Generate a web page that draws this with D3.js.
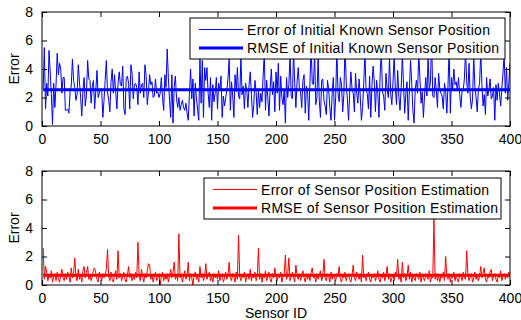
<!DOCTYPE html>
<html>
<head>
<meta charset="utf-8">
<script src="https://cdn.jsdelivr.net/npm/d3@7"></script>
<style>
  body { margin: 0; background: #fff; }
  svg { display: block; font-family: "Liberation Sans", Arial, sans-serif; }
</style>
</head>
<body>
<div id="container"></div>
<script>
// error of the initial known sensor position, one value per sensor (1..400)
const initialError = [
  2.6, 5.5, 1.2, 3.0, 2.1, 5.3, 3.8, 2.2, 0.1, 3.0, 1.3, 2.9, 5.1, 3.6, 4.4, 4.0, 2.3, 3.4, 3.4, 1.1,
  1.1, 1.2, 0.9, 2.4, 2.8, 4.7, 3.2, 2.7, 1.8, 2.2, 4.3, 3.1, 2.0, 0.7, 2.5, 3.4, 1.4, 2.2, 4.6, 3.3,
  3.2, 1.6, 2.8, 3.2, 1.2, 2.5, 3.9, 2.0, 2.3, 2.6, 2.6, 0.6, 1.8, 3.2, 4.6, 2.4, 1.8, 1.0, 3.1, 4.0,
  2.3, 3.6, 2.4, 1.2, 3.0, 3.8, 2.9, 2.8, 4.2, 1.2, 0.8, 3.4, 3.5, 3.0, 1.2, 4.3, 3.7, 1.9, 2.9, 3.0,
  2.7, 1.5, 3.8, 2.3, 2.9, 3.0, 2.0, 4.3, 3.5, 1.5, 2.4, 3.6, 2.9, 3.1, 2.0, 2.1, 3.3, 2.3, 2.4, 2.0,
  2.3, 3.4, 2.0, 1.1, 3.6, 2.7, 5.4, 3.4, 1.8, 0.6, 3.6, 0.2, 2.8, 3.5, 1.9, 1.3, 2.0, 1.1, 1.5, 1.8,
  1.3, 1.1, 1.6, 0.9, 0.4, 2.2, 4.0, 1.9, 3.3, 0.7, 3.0, 2.0, 1.1, 0.4, 4.8, 1.6, 4.6, 0.6, 4.1, 3.2,
  4.1, 2.3, 1.3, 3.4, 0.4, 2.9, 1.7, 2.3, 3.4, 1.2, 3.0, 2.5, 3.5, 0.6, 2.1, 1.4, 2.0, 2.5, 3.4, 4.7,
  1.1, 3.1, 2.1, 0.6, 3.6, 2.4, 4.1, 2.1, 1.9, 4.9, 2.2, 2.8, 1.2, 3.0, 2.5, 1.3, 2.9, 3.8, 2.2, 0.6,
  1.5, 3.2, 2.4, 0.8, 2.5, 1.3, 2.3, 1.7, 3.5, 5.2, 1.1, 3.2, 2.0, 0.7, 2.6, 4.0, 2.2, 3.1, 1.0, 3.8,
  2.3, 4.4, 1.1, 3.5, 2.0, 1.5, 2.6, 0.2, 3.4, 2.0, 2.9, 5.0, 2.1, 1.9, 5.3, 3.0, 1.3, 3.1, 4.1, 2.6,
  2.4, 1.3, 3.2, 3.6, 0.9, 2.8, 2.4, 0.4, 3.0, 5.6, 3.0, 2.9, 5.1, 1.5, 2.0, 4.9, 1.8, 0.6, 3.2, 3.3,
  1.8, 1.4, 0.8, 3.2, 2.6, 1.3, 0.4, 2.3, 3.4, 0.4, 2.0, 5.4, 2.3, 1.7, 3.4, 2.9, 1.0, 2.2, 5.8, 3.1,
  1.9, 0.4, 2.3, 3.8, 2.6, 2.3, 1.0, 3.7, 2.3, 1.6, 3.3, 2.1, 0.4, 1.3, 3.0, 5.2, 2.5, 2.3, 1.2, 3.5,
  0.6, 2.9, 4.2, 3.1, 1.0, 3.2, 2.3, 0.6, 3.6, 5.3, 2.4, 2.1, 1.1, 3.7, 2.6, 2.0, 4.8, 2.3, 1.5, 3.1,
  4.9, 2.6, 1.5, 3.9, 2.1, 1.1, 2.7, 5.0, 2.9, 0.9, 2.3, 3.1, 0.4, 2.5, 4.6, 3.0, 1.1, 0.2, 2.6, 3.2,
  2.3, 5.1, 3.4, 1.6, 2.4, 0.6, 2.2, 3.4, 2.1, 4.9, 2.5, 3.1, 6.2, 2.1, 2.0, 3.4, 2.5, 1.3, 3.7, 2.6,
  2.3, 2.1, 1.2, 3.0, 2.5, 0.9, 2.8, 5.5, 0.9, 3.4, 2.6, 4.0, 2.9, 3.1, 2.5, 3.4, 2.2, 1.3, 2.4, 2.5,
  3.3, 5.3, 3.1, 2.3, 4.4, 2.0, 1.2, 1.9, 4.9, 2.8, 2.0, 1.0, 2.6, 3.0, 5.2, 2.9, 1.4, 2.2, 0.8, 3.4,
  2.1, 2.6, 3.3, 1.9, 2.1, 2.7, 0.4, 2.9, 1.8, 3.0, 2.3, 1.4, 2.6, 3.7, 5.0, 2.3, 4.1, 1.8, 3.0, 4.4
];

// error of the sensor position estimation, one value per sensor (1..400)
const estimationError = [
  2.6, 0.4, 1.3, 0.9, 0.3, 0.7, 0.5, 1.0, 0.2, 0.6, 0.8, 0.3, 0.9, 0.4, 0.2, 0.7, 1.1, 0.5, 0.3, 0.8,
  0.4, 0.9, 0.6, 0.2, 1.2, 0.5, 0.8, 1.9, 0.6, 0.3, 1.1, 0.4, 0.7, 0.2, 1.0, 1.3, 0.5, 0.9, 1.3, 0.4,
  0.7, 0.3, 0.6, 1.1, 1.2, 0.8, 0.4, 0.2, 0.9, 0.6, 0.3, 0.8, 0.5, 0.7, 1.1, 2.5, 0.6, 0.3, 0.9, 0.4,
  0.2, 0.7, 1.0, 0.4, 2.4, 0.5, 0.8, 0.3, 0.6, 0.9, 0.4, 0.2, 0.7, 1.3, 0.5, 0.8, 0.3, 0.6, 0.4, 0.9,
  0.5, 3.0, 0.7, 0.3, 1.1, 0.6, 0.2, 0.8, 0.5, 1.0, 1.5, 1.4, 0.4, 0.7, 0.2, 0.6, 0.9, 0.3, 0.5, 0.8,
  0.0, 0.6, 0.9, 0.3, 0.7, 0.4, 0.8, 0.2, 0.6, 1.1, 0.5, 0.9, 1.6, 0.4, 0.7, 0.3, 3.6, 0.5, 0.8, 0.2,
  0.6, 1.0, 0.4, 0.7, 1.6, 0.3, 0.8, 0.5, 0.0, 0.7, 0.9, 0.4, 0.6, 0.2, 1.3, 0.5, 0.8, 0.3, 0.6, 1.5,
  0.4, 0.7, 0.9, 0.3, 0.6, 0.2, 0.8, 0.5, 0.7, 0.4, 1.0, 0.3, 0.6, 0.8, 0.2, 0.5, 0.9, 0.4, 0.7, 1.6,
  0.5, 0.3, 0.8, 0.6, 0.2, 0.9, 0.4, 3.5, 0.6, 0.3, 0.7, 0.5, 0.9, 0.2, 0.6, 0.8, 0.4, 1.1, 0.3, 0.7,
  0.5, 0.9, 0.3, 0.6, 2.6, 0.4, 0.8, 0.2, 0.7, 0.5, 1.0, 0.3, 0.6, 0.9, 0.4, 0.2, 0.8, 0.5, 1.2, 0.6,
  0.3, 0.7, 0.5, 0.9, 0.2, 0.6, 0.8, 2.1, 0.4, 0.7, 1.9, 0.3, 0.6, 0.9, 0.5, 0.2, 1.4, 0.7, 0.4, 0.8,
  0.3, 0.6, 1.0, 0.5, 0.2, 0.8, 0.4, 0.7, 0.3, 0.9, 1.2, 0.5, 0.6, 0.2, 0.8, 0.4, 0.7, 1.0, 0.3, 0.6,
  1.8, 0.5, 0.3, 0.8, 0.6, 0.2, 0.9, 0.4, 0.7, 0.5, 0.3, 0.8, 0.6, 1.3, 0.4, 0.2, 0.7, 0.5, 0.9, 0.3,
  0.6, 0.8, 0.4, 0.2, 0.7, 1.4, 0.5, 0.3, 0.9, 0.6, 0.4, 0.8, 0.2, 2.1, 0.5, 0.7, 0.3, 0.6, 0.9, 0.4,
  0.2, 0.7, 0.5, 0.8, 0.3, 0.6, 1.0, 0.4, 0.2, 0.7, 0.5, 0.9, 0.3, 0.6, 1.3, 0.4, 0.8, 0.2, 0.5, 0.7,
  0.3, 0.9, 0.6, 1.8, 0.4, 0.7, 0.2, 1.6, 0.5, 0.8, 0.3, 0.6, 1.4, 0.4, 0.9, 0.2, 0.7, 0.5, 0.3, 0.8,
  0.6, 0.4, 0.9, 0.2, 0.7, 0.5, 0.3, 0.8, 0.6, 0.4, 1.0, 0.2, 0.6, 0.5, 4.7, 0.4, 0.8, 0.3, 0.6, 0.2,
  0.7, 0.5, 0.9, 0.3, 2.0, 0.6, 0.4, 0.8, 0.2, 0.6, 0.5, 0.9, 0.3, 0.7, 0.4, 0.2, 0.8, 0.6, 0.3, 0.9,
  0.5, 0.4, 2.4, 0.7, 0.3, 0.6, 0.8, 0.2, 0.5, 0.9, 0.4, 0.7, 0.3, 0.6, 1.3, 0.5, 0.8, 1.2, 0.4, 0.2,
  0.7, 0.5, 0.9, 1.1, 0.3, 0.6, 0.8, 0.4, 0.2, 0.7, 0.5, 1.0, 0.3, 0.6, 0.8, 0.4, 0.7, 0.5, 0.9, 0.6
];

const initialRmse = 2.55;
const estimationRmse = 0.68;

const xTicks = [0, 50, 100, 150, 200, 250, 300, 350, 400];
const yTicks = [0, 2, 4, 6, 8];

const panels = [
  {
    values: initialError, rmse: initialRmse, color: '#0000ff',
    labels: ['Error of Initial Known Sensor Position', 'RMSE of Initial Known Sensor Position'],
    top: 12, bottom: 126, legend: { x: 190, y: 18, w: 315, h: 41 }, xLabel: null
  },
  {
    values: estimationError, rmse: estimationRmse, color: '#ff0000',
    labels: ['Error of Sensor Position Estimation', 'RMSE of Sensor Position Estimation'],
    top: 171, bottom: 285, legend: { x: 204, y: 178, w: 297, h: 41 }, xLabel: 'Sensor ID'
  }
];

const w = 521;
const h = 320;
const left = 42;
const right = 510;
const fontSize = 14;

const svg = d3.select('#container').append('svg')
  .attr('width', w)
  .attr('height', h);

const x = d3.scaleLinear().domain([0, 400]).range([left, right]);

panels.forEach((p, k) => {
  const y = d3.scaleLinear().domain([0, 8]).range([p.bottom, p.top]);
  const g = svg.append('g');

  g.append('clipPath').attr('id', 'clip' + k)
    .append('rect')
    .attr('x', left).attr('y', p.top)
    .attr('width', right - left).attr('height', p.bottom - p.top);

  const data = p.values.map((v, i) => [i + 1, v]);
  const line = d3.line().x(d => x(d[0])).y(d => y(d[1]));

  const plot = g.append('g').attr('clip-path', `url(#clip${k})`);
  plot.append('path')
    .datum(data)
    .attr('d', line)
    .attr('fill', 'none')
    .attr('stroke', p.color)
    .attr('stroke-width', 1)
    .attr('stroke-linejoin', 'round');
  plot.append('path')
    .datum([[1, p.rmse], [400, p.rmse]])
    .attr('d', line)
    .attr('fill', 'none')
    .attr('stroke', p.color)
    .attr('stroke-width', 3);

  // axes, ticks inward on all four sides
  const tickLen = 5;
  g.append('g')
    .attr('transform', `translate(0,${p.bottom})`)
    .call(d3.axisBottom(x).tickValues(xTicks).tickSizeInner(-tickLen).tickSizeOuter(0).tickPadding(8))
    .call(a => a.select('.domain').remove())
    .call(a => a.selectAll('text').attr('font-size', fontSize).attr('font-family', null).attr('fill', '#000'));
  g.append('g')
    .attr('transform', `translate(0,${p.top})`)
    .call(d3.axisTop(x).tickValues(xTicks).tickSizeInner(-tickLen).tickSizeOuter(0).tickFormat(''))
    .call(a => a.select('.domain').remove());
  g.append('g')
    .attr('transform', `translate(${left},0)`)
    .call(d3.axisLeft(y).tickValues(yTicks).tickSizeInner(-tickLen).tickSizeOuter(0).tickPadding(9))
    .call(a => a.select('.domain').remove())
    .call(a => a.selectAll('text').attr('font-size', fontSize).attr('font-family', null).attr('fill', '#000'));
  g.append('g')
    .attr('transform', `translate(${right},0)`)
    .call(d3.axisRight(y).tickValues(yTicks).tickSizeInner(-tickLen).tickSizeOuter(0).tickFormat(''))
    .call(a => a.select('.domain').remove());

  g.selectAll('.tick line').attr('stroke', '#000');

  g.append('rect')
    .attr('x', left).attr('y', p.top)
    .attr('width', right - left).attr('height', p.bottom - p.top)
    .attr('fill', 'none').attr('stroke', '#000');

  g.append('text')
    .attr('transform', `translate(19,${(p.top + p.bottom) / 2}) rotate(-90)`)
    .attr('text-anchor', 'middle')
    .attr('font-size', fontSize)
    .text('Error');

  if (p.xLabel) {
    g.append('text')
      .attr('x', (left + right) / 2)
      .attr('y', 318)
      .attr('text-anchor', 'middle')
      .attr('font-size', fontSize)
      .text(p.xLabel);
  }

  // legend
  const lg = g.append('g').attr('transform', `translate(${p.legend.x},${p.legend.y})`);
  lg.append('rect')
    .attr('width', p.legend.w).attr('height', p.legend.h)
    .attr('fill', '#fff').attr('stroke', '#000');
  p.labels.forEach((t, i) => {
    const cy = 11.5 + i * 18.5;
    lg.append('line')
      .attr('x1', 9).attr('x2', 53)
      .attr('y1', cy).attr('y2', cy)
      .attr('stroke', p.color)
      .attr('stroke-width', i === 0 ? 1 : 3);
    lg.append('text')
      .attr('x', 57).attr('y', cy + 5)
      .attr('font-size', fontSize)
      .attr('letter-spacing', 0.3)
      .text(t);
  });
});
</script>
</body>
</html>
